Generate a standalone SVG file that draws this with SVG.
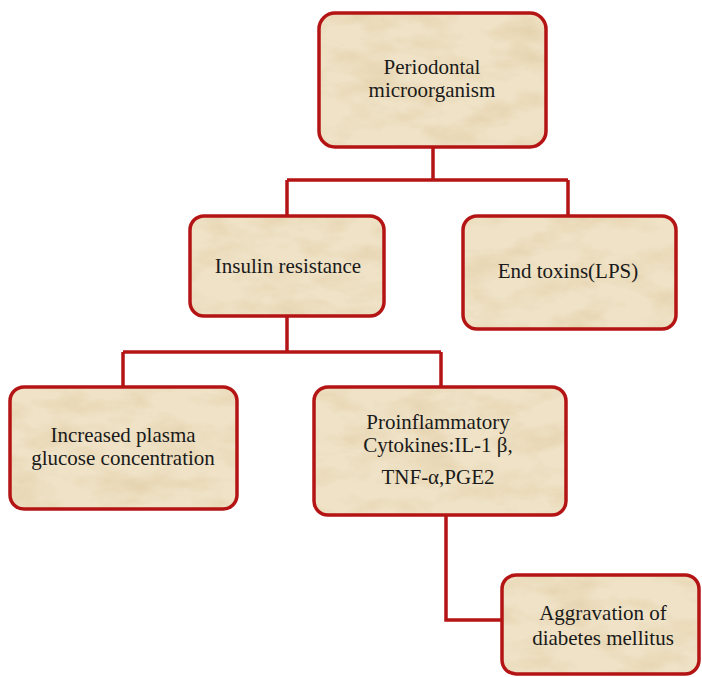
<svg xmlns="http://www.w3.org/2000/svg" width="702" height="677" viewBox="0 0 702 677">
<style>
.box{fill:#EFE2C6;stroke:none}
.tex{fill:#000;filter:url(#parch)}
.edge{fill:none;stroke:#B41414;stroke-width:3.5}
.conn{fill:none;stroke:#B41414;stroke-width:3.5;stroke-linejoin:miter}
.lbl{font-family:'Liberation Serif','Times New Roman',serif;font-size:21px;fill:#1a1a1a;text-anchor:middle}
</style>
<defs>
<filter id="parch" x="0" y="0" width="100%" height="100%" color-interpolation-filters="sRGB">
<feTurbulence type="fractalNoise" baseFrequency="0.02 0.04" numOctaves="4" seed="7" result="n"/>
<feColorMatrix in="n" type="matrix" values="0 0 0 0 0.84  0 0 0 0 0.73  0 0 0 0 0.53  0.8 0 0 0 -0.34" result="c"/>
<feComposite in="c" in2="SourceGraphic" operator="in"/>
</filter>
</defs>
<rect width="702" height="677" fill="#fff"/>
<g id="connectors">
<path class="conn" d="M433 147 V180 M287 180 H568 M287 180 V216 M568 180 V216"/>
<path class="conn" d="M287 316 V352 M123 352 H441 M123 352 V387 M441 352 V387"/>
<path class="conn" d="M446 515 V620 H502"/>
</g>
<g id="n1">
<rect class="box" x="319" y="13" width="227" height="134" rx="16"/>
<rect class="tex" x="319" y="13" width="227" height="134" rx="16"/>
<rect class="edge" x="319" y="13" width="227" height="134" rx="16"/>
<text class="lbl" x="432" y="74">Periodontal</text>
<text class="lbl" x="432" y="97">microorganism</text>
</g>
<g id="n2">
<rect class="box" x="190" y="216" width="194" height="100" rx="14"/>
<rect class="tex" x="190" y="216" width="194" height="100" rx="14"/>
<rect class="edge" x="190" y="216" width="194" height="100" rx="14"/>
<text class="lbl" x="288" y="273">Insulin resistance</text>
</g>
<g id="n3">
<rect class="box" x="463" y="216" width="213" height="113" rx="14"/>
<rect class="tex" x="463" y="216" width="213" height="113" rx="14"/>
<rect class="edge" x="463" y="216" width="213" height="113" rx="14"/>
<text class="lbl" x="568" y="278">End toxins(LPS)</text>
</g>
<g id="n4">
<rect class="box" x="10" y="387" width="227" height="122" rx="14"/>
<rect class="tex" x="10" y="387" width="227" height="122" rx="14"/>
<rect class="edge" x="10" y="387" width="227" height="122" rx="14"/>
<text class="lbl" x="123" y="442">Increased plasma</text>
<text class="lbl" x="123" y="465">glucose concentration</text>
</g>
<g id="n5">
<rect class="box" x="314" y="387" width="252" height="128" rx="14"/>
<rect class="tex" x="314" y="387" width="252" height="128" rx="14"/>
<rect class="edge" x="314" y="387" width="252" height="128" rx="14"/>
<text class="lbl" x="438" y="429">Proinflammatory</text>
<text class="lbl" x="438" y="452">Cytokines:IL-1 β,</text>
<text class="lbl" x="438" y="484">TNF-α,PGE2</text>
</g>
<g id="n6">
<rect class="box" x="502" y="575" width="197" height="99" rx="14"/>
<rect class="tex" x="502" y="575" width="197" height="99" rx="14"/>
<rect class="edge" x="502" y="575" width="197" height="99" rx="14"/>
<text class="lbl" x="603" y="620">Aggravation of</text>
<text class="lbl" x="603" y="645">diabetes mellitus</text>
</g>
</svg>
